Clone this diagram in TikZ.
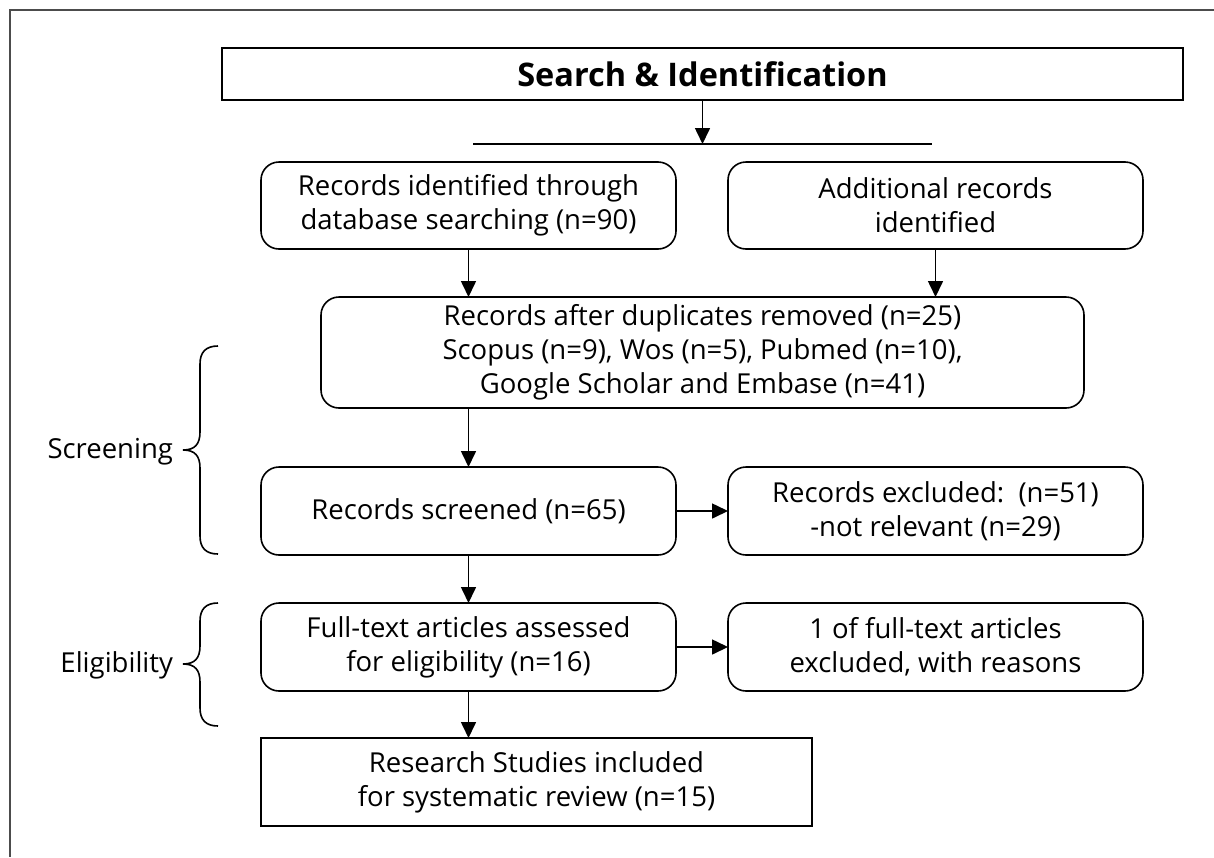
\documentclass[tikz,border=0pt]{standalone}
\usepackage{fontspec}
\setmainfont{Open Sans}
\usetikzlibrary{arrows.meta}
\begin{document}
\begin{tikzpicture}[x=1pt,y=-1pt,
  every node/.style={inner sep=0pt,outer sep=0pt},
  txt/.style={font=\fontsize{27.5}{34}\selectfont,align=center},
  sqbox/.style={txt,draw,line width=1.6pt,rectangle},
  rbox/.style={txt,draw,line width=1.6pt,rectangle,rounded corners=18pt},
  conn/.style={line width=1.6pt,-{Triangle[length=16pt,width=15pt]}},
  plain/.style={line width=1.6pt},
  brace/.style={line width=1.6pt},
  frame/.style={line width=1.6pt,draw=black!70}]
\useasboundingbox (0,0) rectangle (1214,857);
\draw[frame] (9,10) -- (1214,10);
\draw[frame] (10,10) -- (10,857);

\node[sqbox,minimum width=961pt,minimum height=52pt,font=\fontsize{32.5}{40}\selectfont\bfseries] (title) at (702.5,74) {Search \& Identification};
\coordinate (hl) at (473,144);
\coordinate (hr) at (932,144);
\coordinate (hm) at (702.5,144);
\draw[plain] (hl) -- (hr);
\draw[conn] (title.south) -- (hm);

\node[rbox,minimum width=415pt,minimum height=87pt] (b1) at (468.5,205.5) {Records identified through\\database searching (n=90)};
\node[rbox,minimum width=415pt,minimum height=87pt] (b2) at (935.5,205.5) {Additional records\\identified};
\node[rbox,minimum width=763pt,minimum height=111pt] (b3) at (702.5,352.5) {Records after duplicates removed (n=25)\\Scopus (n=9), Wos (n=5), Pubmed (n=10),\\Google Scholar and Embase (n=41)};
\node[rbox,minimum width=415pt,minimum height=88pt] (b4) at (468.5,511) {Records screened (n=65)};
\node[rbox,minimum width=415pt,minimum height=88pt] (b5) at (935.5,511) {Records excluded:\ \ (n=51)\\-not relevant (n=29)};
\node[rbox,minimum width=415pt,minimum height=88pt] (b6) at (468.5,647) {Full-text articles assessed\\for eligibility (n=16)};
\node[rbox,minimum width=415pt,minimum height=88pt] (b7) at (935.5,647) {1 of full-text articles\\excluded, with reasons};
\node[sqbox,minimum width=551pt,minimum height=88pt] (b8) at (536.5,782) {Research Studies included\\for systematic review (n=15)};

\draw[conn] (b1.south) -- (b1.south |- b3.north);
\draw[conn] (b2.south) -- (b2.south |- b3.north);
\draw[conn] (b4.north |- b3.south) -- (b4.north);
\draw[conn] (b4.east) -- (b5.west);
\draw[conn] (b4.south) -- (b6.north);
\draw[conn] (b6.east) -- (b7.west);
\draw[conn] (b6.south) -- (b6.south |- b8.north);

\draw[brace] (218,346) .. controls (206,346) and (200,352) .. (200,364) -- (200,432)
  .. controls (200,444) and (195,450) .. (183,450)
  .. controls (195,450) and (200,456) .. (200,468) -- (200,536)
  .. controls (200,548) and (206,554) .. (218,554);
\draw[brace] (218,603) .. controls (206,603) and (200,609) .. (200,621) -- (200,646)
  .. controls (200,658) and (195,664) .. (183,664)
  .. controls (195,664) and (200,670) .. (200,682) -- (200,708)
  .. controls (200,720) and (206,726) .. (218,726);
\node[txt,anchor=base east] (scr) at (173,458) {Screening};
\node[txt,anchor=base east] (eli) at (173,672) {Eligibility};
\end{tikzpicture}
\end{document}
